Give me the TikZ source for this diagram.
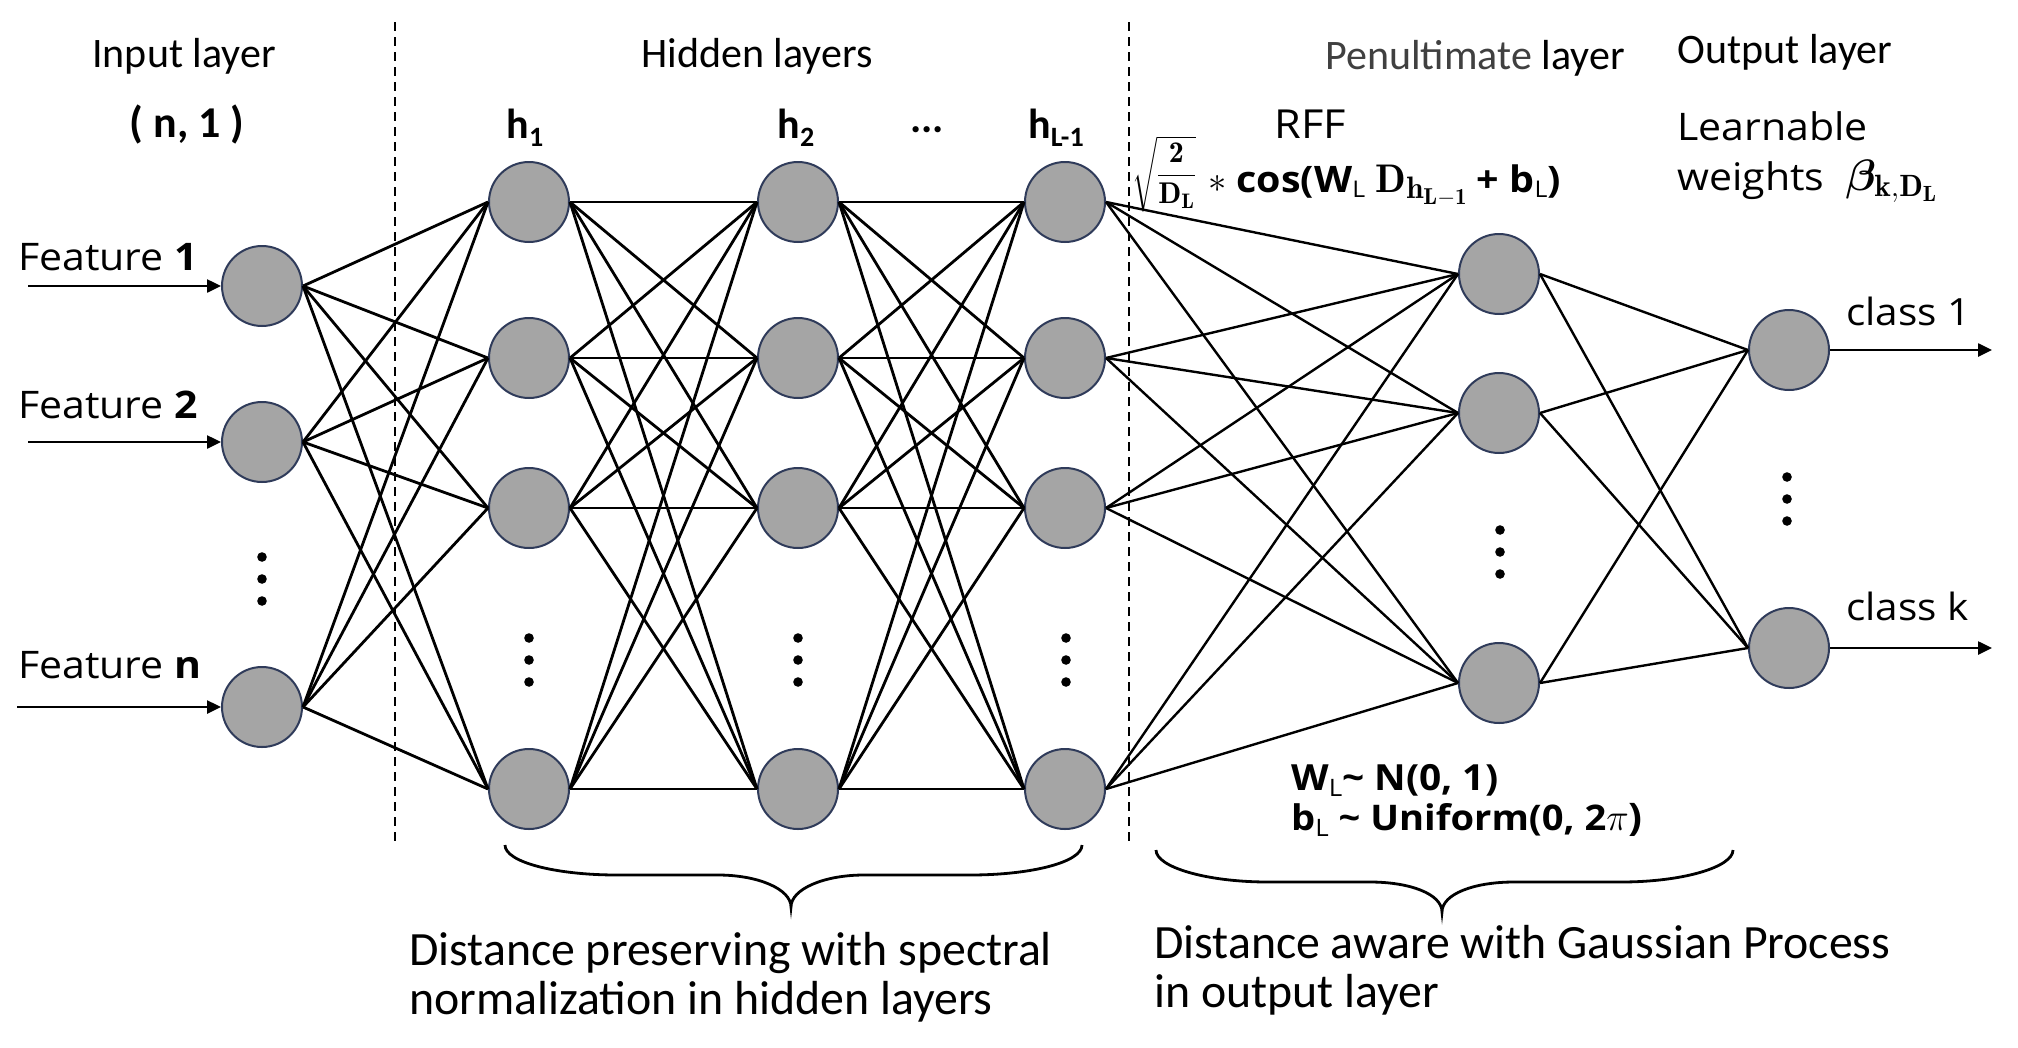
\RequirePackage{fix-cm}
\documentclass[tikz,border=0pt]{standalone}
\usepackage{amsmath}
\usepackage{bm}
\usepackage{fontspec}
\newfontfamily\carl{Carlito}
\newfontfamily\mg[FakeStretch=1.08]{Open Sans}
\usetikzlibrary{arrows.meta,calc}
\newcommand\fs[1]{\fontsize{#1}{#1}\selectfont}
\definecolor{nodefill}{HTML}{A5A5A5}
\definecolor{nodeline}{HTML}{2F3B5A}
\definecolor{pengray}{HTML}{404040}
\tikzset{
  neuron/.style={circle,minimum size=80pt,inner sep=0pt,fill=nodefill,draw=nodeline,line width=2pt},
  edge/.style={line width=2.8pt,black},
  edgeb/.style={line width=2.4pt,black},
  arr/.style={line width=2.5pt,-{Triangle[length=14pt,width=13pt]}},
  sepline/.style={line width=2pt,dash pattern=on 9pt off 6pt},
  bracepath/.style={line width=2.8pt},
  head/.style={font=\carl\fs{42},anchor=base,inner sep=0pt},
  lab/.style={font=\mg\fs{38},anchor=base west,inner sep=0pt},
  hlab/.style={font=\carl\bfseries\fs{42},anchor=base,inner sep=0pt},
  bottxt/.style={font=\carl\fs{47.8},anchor=base west,inner sep=0pt,align=left},
  dotc/.style={fill=black}
}
\begin{document}
\begin{tikzpicture}[x=1pt,y=-1pt]
\useasboundingbox (0,0) rectangle (2018,1047);
% nodes
\node[neuron] (in1) at (262,286) {};
\node[neuron] (in2) at (262,442) {};
\node[neuron] (in3) at (262,707) {};
\foreach \n/\x in {a/529,b/798,c/1065}{
  \node[neuron] (\n1) at (\x,202) {};
  \node[neuron] (\n2) at (\x,358) {};
  \node[neuron] (\n3) at (\x,508) {};
  \node[neuron] (\n4) at (\x,789) {};
}
\node[neuron] (p1) at (1499,274) {};
\node[neuron] (p2) at (1499,413) {};
\node[neuron] (p3) at (1499,683) {};
\node[neuron] (o1) at (1789,350) {};
\node[neuron] (o2) at (1789,648) {};
% edges
\foreach \i in {1,2,3}{\foreach \j in {1,2,3,4}{\draw[edge] (in\i.east) -- (a\j.west);}}
\foreach \i in {1,2,3,4}{\foreach \j in {1,2,3,4}{
  \draw[edge] (a\i.east) -- (b\j.west);
  \draw[edge] (b\i.east) -- (c\j.west);}}
\foreach \i in {1,2,3,4}{\foreach \j in {1,2,3}{\draw[edgeb] (c\i.east) -- (p\j.west);}}
\foreach \i in {1,2,3}{\foreach \j in {1,2}{\draw[edgeb] (p\i.east) -- (o\j.west);}}
% input / output arrows
\coordinate (s1) at (28,286);
\coordinate (s2) at (28,442);
\coordinate (s3) at (17,707);
\draw[arr] (s1) -- (in1.west);
\draw[arr] (s2) -- (in2.west);
\draw[arr] (s3) -- (in3.west);
\coordinate (e1) at (1992,350);
\coordinate (e2) at (1992,648);
\draw[arr] (o1.east) -- (e1);
\draw[arr] (o2.east) -- (e2);
% separators
\coordinate (d1t) at (395,22); \coordinate (d1b) at (395,843);
\coordinate (d2t) at (1129,22); \coordinate (d2b) at (1129,843);
\draw[sepline] (d1t) -- (d1b);
\draw[sepline] (d2t) -- (d2b);
% vertical dots
\foreach \x/\y in {262/557,262/579,262/601,
  529/638,529/660,529/682, 798/638,798/660,798/682, 1066/638,1066/660,1066/682,
  1500/530,1500/552,1500/574, 1787/477,1787/499,1787/521}{
  \fill[dotc] (\x,\y) circle (4.8pt);}
% braces
\draw[bracepath] (505,845) .. controls (505,862) and (555,875) .. (617,875) -- (718,875)
  .. controls (758,875) and (791,889) .. (791,907)
  .. controls (791,889) and (824,875) .. (864,875) -- (970,875)
  .. controls (1032,875) and (1082,862) .. (1082,845);
\draw[bracepath] (1156,850) .. controls (1156,867) and (1206,882) .. (1268,882) -- (1370,882)
  .. controls (1410,882) and (1442,894) .. (1442,912)
  .. controls (1442,894) and (1474,882) .. (1514,882) -- (1621,882)
  .. controls (1683,882) and (1733,867) .. (1733,850);
% headings
\node[head] (tin) at (184,67) {Input layer};
\node[head] (thid) at (757,67) {Hidden layers};
\node[head] (tpen) at (1475,69) {\textcolor{pengray}{Penultimate} layer};
\node[head] (tout) at (1785,63) {Output layer};
\node[hlab,font=\carl\bfseries\fs{44}] (tdim) at (187,137) {( n, 1 )};
\node[hlab] (th1) at (525,138) {h\raisebox{-8pt}{\fs{28}1}};
\node[hlab] (th2) at (796,138) {h\raisebox{-8pt}{\fs{28}2}};
\node[hlab] (tdots) at (927,132) {...};
\node[hlab] (th3) at (1056,138) {h\raisebox{-8pt}{\fs{28}L-1}};
% feature labels
\node[lab] (f1) at (18,270) {Feature \textbf{1}};
\node[lab] (f2) at (18,418) {Feature \textbf{2}};
\node[lab] (f3) at (18,678) {Feature \textbf{n}};
\node[lab,font=\mg\fs{37.5}] (c1) at (1846,325) {class 1};
\node[lab,font=\mg\fs{37.5}] (c2) at (1846,620) {class k};
% RFF
\node[lab,anchor=base,font=\mg\fs{40}] (rff) at (1310,138) {RFF};
\node[inner sep=0pt] (sq) at (1164,174) {\fs{30}$\sqrt{\dfrac{\mathbf{2}}{\mathbf{D}_{\mathbf{L}}}}$};
\node[lab,font=\mg\bfseries\fs{36.5}] (rffeq) at (1208,192) {\fs{36.5}$*$ cos(W\raisebox{-5pt}{\mdseries\fs{23}L} \fs{40}$\mathbf{D}$\raisebox{-6pt}{\fs{31}$\mathbf{h}$\raisebox{-6pt}{\fs{23}$\mathbf{L}{-}\mathbf{1}$}}\fs{36.5} + b\raisebox{-5pt}{\mdseries\fs{23}L})};
% learnable
\node[lab,font=\mg\fs{38}] (learn) at (1677,140) {Learnable};
\node[lab,font=\mg\fs{38}] (wts) at (1677,190) {weights\ \ \fs{44}$\bm{\beta}_{\mathbf{k},\mathbf{D}_{\mathbf{L}}}$};
% distributions
\node[lab,font=\mg\bfseries\fs{36}] (wl) at (1291,790) {W\raisebox{-6pt}{\mdseries\fs{24}L}\textasciitilde{} N(0, 1)};
\node[lab,font=\mg\bfseries\fs{35.3}] (bl) at (1291,830) {b\raisebox{-6pt}{\mdseries\fs{24}L} \textasciitilde{} Uniform(0, 2\fs{38}$\pi$)};
% bottom texts
\node[bottxt] (bt1) at (409,965) {Distance preserving with spectral};
\node[bottxt] (bt2) at (409,1014) {normalization in hidden layers};
\node[bottxt] (bt3) at (1154,958) {Distance aware with Gaussian Process};
\node[bottxt] (bt4) at (1154,1007) {in output layer};
\end{tikzpicture}
\end{document}
